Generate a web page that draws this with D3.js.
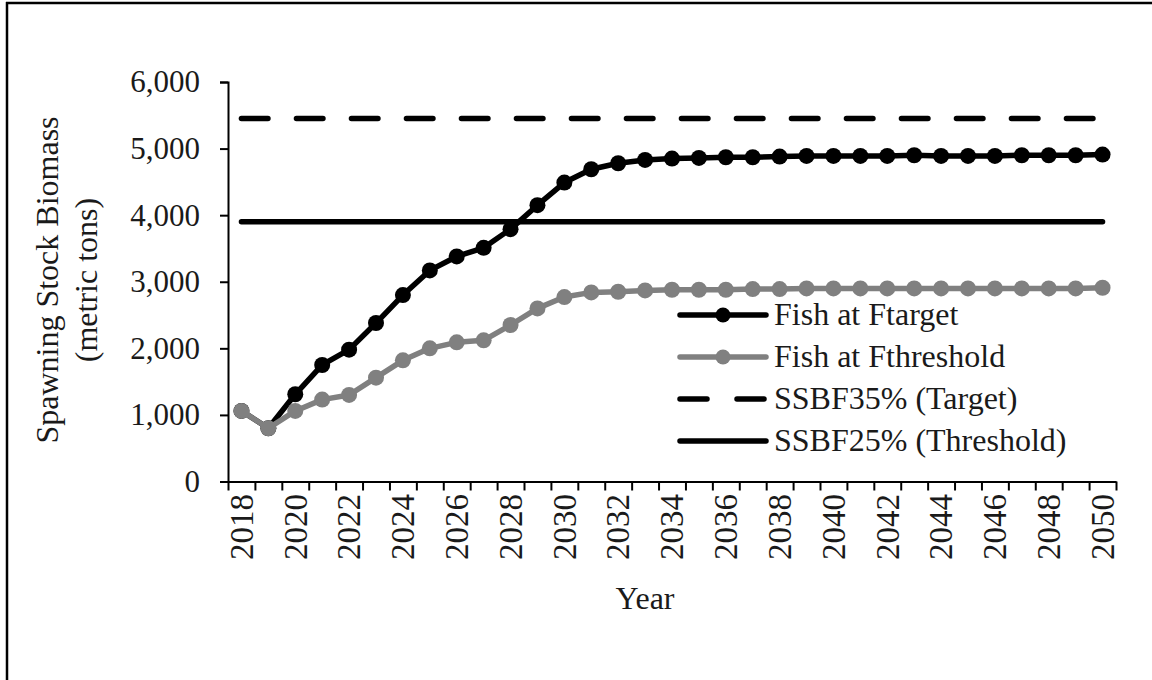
<!DOCTYPE html>
<html>
<head>
<meta charset="utf-8">
<script src="https://cdn.jsdelivr.net/npm/d3@7/dist/d3.min.js"></script>
<style>
  html, body { margin: 0; padding: 0; background: #fff; }
  svg text { font-family: "Liberation Serif", "Times New Roman", serif !important; fill: #1a1a1a; }
</style>
</head>
<body>
<svg id="chart" width="1152" height="680"></svg>
<script>
const years = d3.range(2018, 2051);
const ftarget = [1060, 800, 1310, 1750, 1980, 2380, 2800, 3170, 3380, 3510, 3790, 4150, 4490, 4690, 4780, 4830, 4850, 4860, 4870, 4870, 4880, 4890, 4890, 4890, 4890, 4900, 4890, 4890, 4890, 4900, 4900, 4900, 4910];
const fthreshold = [1060, 800, 1060, 1230, 1300, 1560, 1820, 2000, 2090, 2120, 2350, 2600, 2770, 2840, 2850, 2870, 2880, 2880, 2880, 2890, 2890, 2900, 2900, 2900, 2900, 2900, 2900, 2900, 2900, 2900, 2900, 2900, 2910];
const ssbF35 = 5450;
const ssbF25 = 3900;
const yTicks = [0, 1000, 2000, 3000, 4000, 5000, 6000];
const xTickLabels = years.filter(y => (y - 2018) % 2 === 0);
const legendLabels = ["Fish at Ftarget", "Fish at Fthreshold", "SSBF35% (Target)", "SSBF25% (Threshold)"];

const FONT = '"Liberation Serif", "Times New Roman", serif';
const svg = d3.select("#chart").attr("font-family", FONT);
const GRAY = "#808080";

// frame (left and top edges)
svg.append("line").attr("x1", 7).attr("x2", 7).attr("y1", 2).attr("y2", 680).attr("stroke", "#000").attr("stroke-width", 2.5);
svg.append("line").attr("x1", 6).attr("x2", 1152).attr("y1", 3).attr("y2", 3).attr("stroke", "#000").attr("stroke-width", 2.5);

const x = d3.scaleBand().domain(years).range([228, 1116]).padding(0);
const cx = d => x(d) + x.bandwidth() / 2;
const y = d3.scaleLinear().domain([0, 6000]).range([481.5, 82]);
const xEdge = d3.scaleLinear().domain([2017.5, 2050.5]).range([228, 1116]);

// y axis
const yAxis = svg.append("g").attr("transform", "translate(228,0)")
  .call(d3.axisLeft(y).tickValues(yTicks).tickFormat(d3.format(",")).tickSize(8).tickPadding(20));
yAxis.attr("font-family", FONT).attr("font-size", 31);
yAxis.selectAll("path.domain").attr("stroke", "#000").attr("stroke-width", 2);
yAxis.selectAll(".tick line").attr("stroke", "#000").attr("stroke-width", 2);
yAxis.selectAll("text").style("font-size", "31px").style("font-family", FONT);

// x axis ticks at category edges
const xAxisTicks = svg.append("g").attr("transform", "translate(0,481.5)")
  .call(d3.axisBottom(xEdge).tickValues(d3.range(2017.5, 2051, 1)).tickFormat("").tickSize(9).tickSizeOuter(0));
xAxisTicks.selectAll("path.domain").attr("stroke", "#000").attr("stroke-width", 2);
xAxisTicks.selectAll(".tick line").attr("stroke", "#000").attr("stroke-width", 2);

// x labels rotated
svg.append("g").selectAll("text").data(xTickLabels).join("text")
  .attr("transform", d => `translate(${cx(d)},494) rotate(-90)`)
  .attr("text-anchor", "end")
  .attr("dy", "0.34em")
  .style("font-size", "33px").style("font-family", FONT)
  .text(d => d);

// reference lines
svg.append("line").attr("x1", cx(2018)).attr("x2", cx(2050)).attr("y1", y(ssbF35)).attr("y2", y(ssbF35))
  .attr("stroke", "#000").attr("stroke-width", 5.5).attr("stroke-linecap", "round").attr("stroke-dasharray", "26.5 28.5");
svg.append("line").attr("x1", cx(2018)).attr("x2", cx(2050)).attr("y1", y(ssbF25)).attr("y2", y(ssbF25))
  .attr("stroke", "#000").attr("stroke-width", 5.5).attr("stroke-linecap", "round");

// series
const line = d3.line().x((d, i) => cx(years[i])).y(d => y(d));
function drawSeries(vals, color) {
  svg.append("path").datum(vals).attr("d", line).attr("fill", "none")
    .attr("stroke", color).attr("stroke-width", 5.5).attr("stroke-linejoin", "round");
  svg.append("g").selectAll("circle").data(vals).join("circle")
    .attr("cx", (d, i) => cx(years[i])).attr("cy", d => y(d)).attr("r", 8).attr("fill", color);
}
drawSeries(ftarget, "#000");
drawSeries(fthreshold, GRAY);

// axis titles
const yt = svg.append("g").attr("transform", "translate(0,280)");
yt.append("text").attr("transform", "translate(58,0) rotate(-90)").attr("text-anchor", "middle").style("font-size", "32px").style("font-family", FONT).text("Spawning Stock Biomass");
yt.append("text").attr("transform", "translate(97,0) rotate(-90)").attr("text-anchor", "middle").style("font-size", "32px").style("font-family", FONT).text("(metric tons)");
svg.append("text").attr("x", 645).attr("y", 609).attr("text-anchor", "middle").style("font-size", "32px").style("font-family", FONT).text("Year");

// legend
const lg = svg.append("g").attr("transform", "translate(678,315)");
const styles = [
  {color: "#000", dash: null, marker: true},
  {color: GRAY, dash: null, marker: true},
  {color: "#000", dash: "27 30", marker: false},
  {color: "#000", dash: null, marker: false}
];
legendLabels.forEach((lab, i) => {
  const row = lg.append("g").attr("transform", `translate(0,${i * 42})`);
  const s = styles[i];
  row.append("line").attr("x1", 2).attr("x2", 88).attr("y1", 0).attr("y2", 0)
    .attr("stroke", s.color).attr("stroke-width", 5.5).attr("stroke-linecap", "round")
    .attr("stroke-dasharray", s.dash);
  if (s.marker) row.append("circle").attr("cx", 45).attr("cy", 0).attr("r", 7.5).attr("fill", s.color);
  row.append("text").attr("x", 96).attr("y", 10).style("font-size", "32px").style("font-family", FONT).text(lab);
});
</script>
</body>
</html>
